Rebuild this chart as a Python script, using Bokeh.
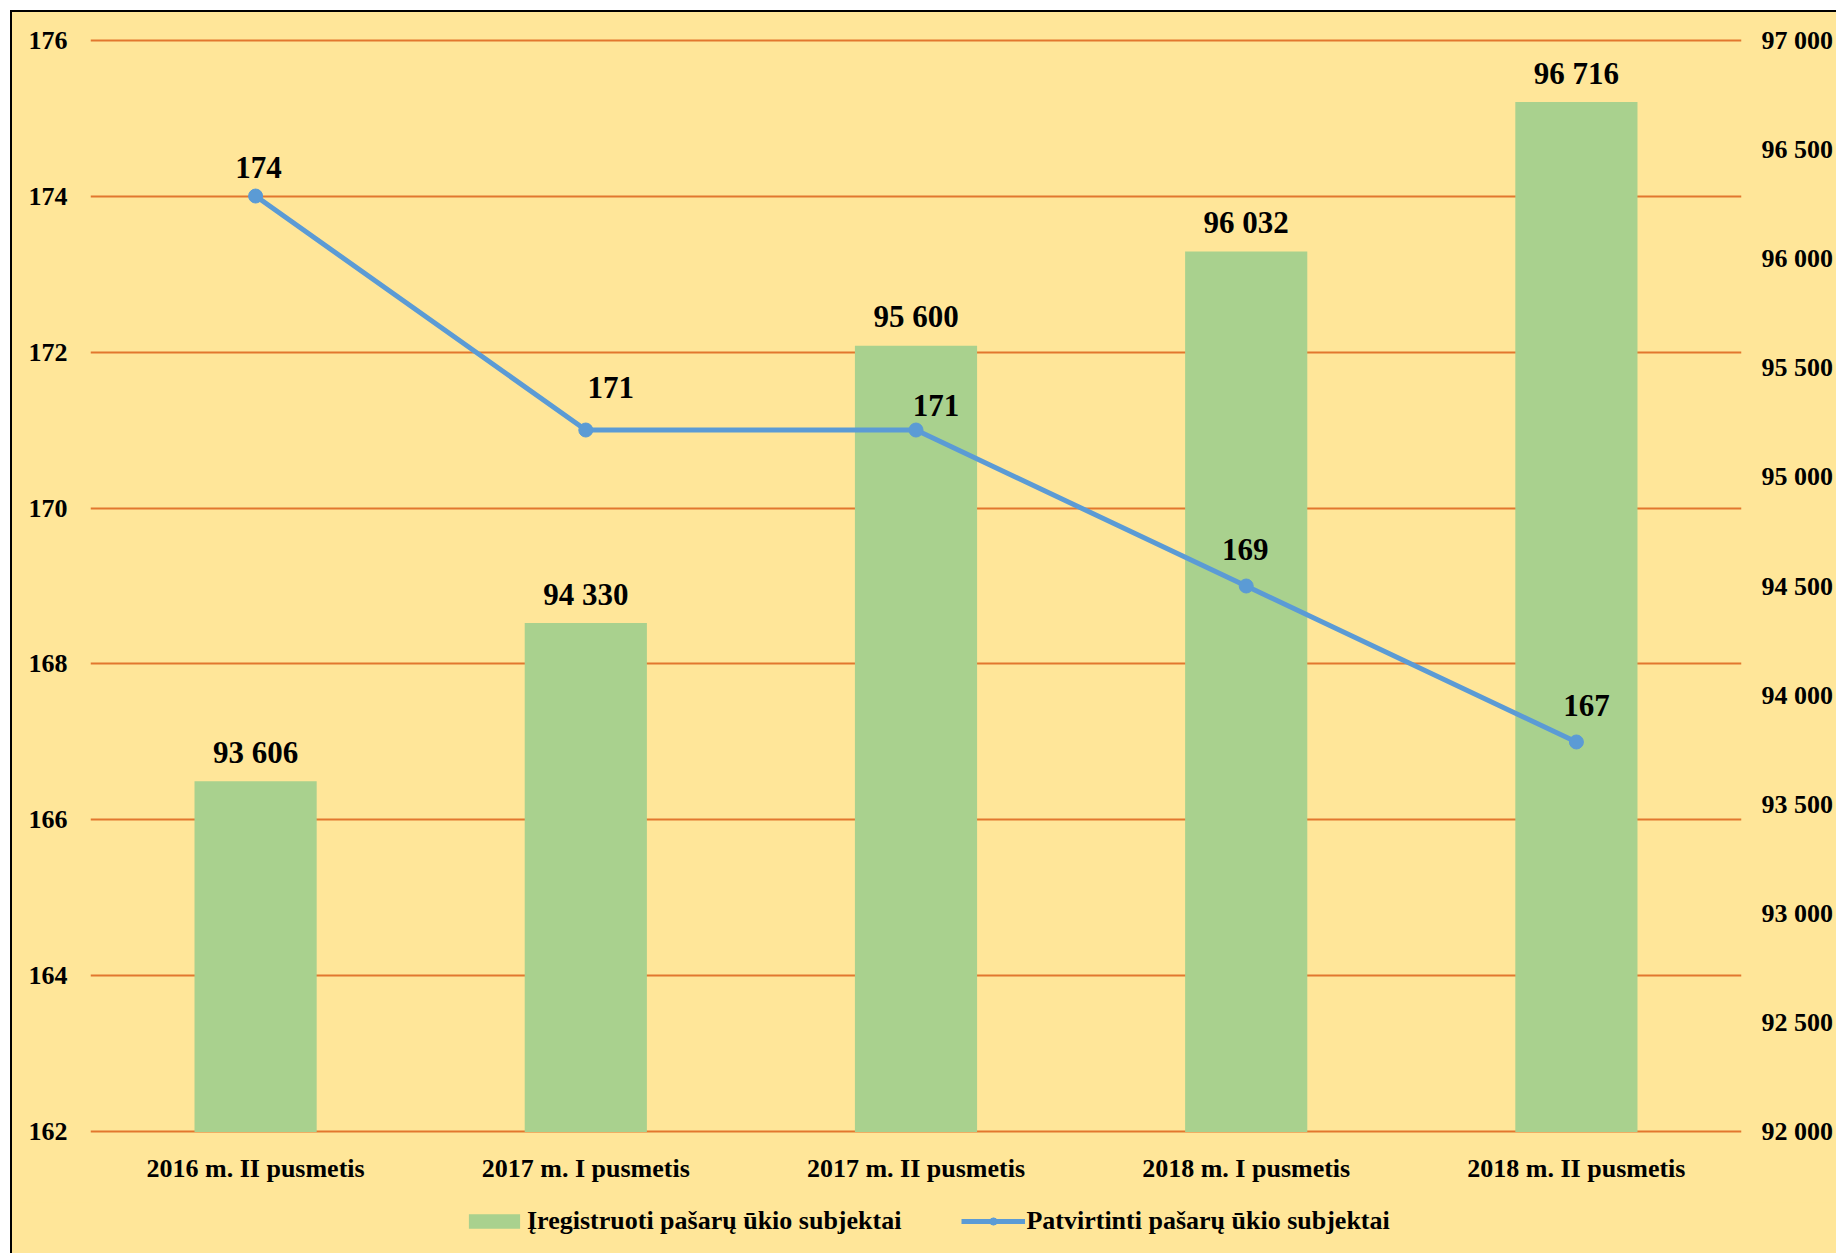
from bokeh.plotting import figure
from bokeh.layouts import column
from bokeh.models import (ColumnDataSource, FactorRange, Range1d, LinearAxis, FixedTicker,
                          LabelSet, Legend, LegendItem)
from bokeh.embed import file_html
from bokeh.resources import INLINE

categories = ["2016 m. II pusmetis", "2017 m. I pusmetis", "2017 m. II pusmetis",
              "2018 m. I pusmetis", "2018 m. II pusmetis"]
registered = [93606, 94330, 95600, 96032, 96716]
approved = [174, 171, 171, 169, 167]
left_ticks = [162, 164, 166, 168, 170, 172, 174, 176]
right_ticks = [92000, 92500, 93000, 93500, 94000, 94500, 95000, 95500, 96000, 96500, 97000]

bar_name = "Įregistruoti pašarų ūkio subjektai"
line_name = "Patvirtinti pašarų ūkio subjektai"

def fmt(v):
    return f"{v:,}".replace(",", " ")

FONT = "Liberation Serif"
BG = "#FFE699"
BAR = "#A9D18E"
LINE = "#5B9BD5"
GRID = "#E2772E"

src = ColumnDataSource(dict(
    cat=categories, reg=registered, app=approved,
    reg_lbl=[fmt(v) for v in registered],
    app_lbl=[str(v) for v in approved],
    dx=[3, 25, 20, -1, 10],
    dy=[29, 43, 25, 37, 36],
))

# small pad so that edge grid lines are drawn
lo, hi = left_ticks[0], left_ticks[-1]
rlo, rhi = right_ticks[0], right_ticks[-1]
pad = 0.02
scale = (rhi - rlo) / (hi - lo)

W = 1824
H_MAIN = 1190
H_LEG = 1241 - H_MAIN

p = figure(x_range=FactorRange(*categories, range_padding=0),
           y_range=Range1d(lo - pad, hi + pad),
           width=W, height=H_MAIN, output_backend="svg", toolbar_location=None,
           min_border_left=78, min_border_right=94, min_border_top=26, min_border_bottom=69)
p.background_fill_color = BG
p.border_fill_color = BG
p.outline_line_color = None
p.extra_y_ranges = {"right": Range1d(rlo - pad * scale, rhi + pad * scale)}

bars = p.vbar(x="cat", top="reg", bottom=rlo, width=0.37, source=src,
              y_range_name="right", fill_color=BAR, line_color=None)
ln = p.line(x="cat", y="app", source=src, line_color=LINE, line_width=5)
pts = p.scatter(x="cat", y="app", source=src, size=14, fill_color=LINE, line_color=LINE)

def style_axis(a, standoff):
    a.axis_line_color = None
    a.major_tick_line_color = None
    a.minor_tick_line_color = None
    a.major_tick_out = 0
    a.major_tick_in = 0
    a.minor_tick_out = 0
    a.minor_tick_in = 0
    a.major_label_text_font = FONT
    a.major_label_text_font_style = "bold"
    a.major_label_text_font_size = "26px"
    a.major_label_text_color = "black"
    a.major_label_standoff = standoff

ax = p.yaxis[0]
ax.ticker = FixedTicker(ticks=left_ticks)
style_axis(ax, 23)

rax = LinearAxis(y_range_name="right", ticker=FixedTicker(ticks=right_ticks),
                 major_label_overrides={t: fmt(t) for t in right_ticks})
style_axis(rax, 20)
p.add_layout(rax, "right")

style_axis(p.xaxis[0], 20)

p.xgrid.grid_line_color = None
p.ygrid.ticker = FixedTicker(ticks=left_ticks)
p.ygrid.grid_line_color = GRID
p.ygrid.grid_line_width = 2

# data labels
p.add_layout(LabelSet(x="cat", y="reg", text="reg_lbl", source=src, y_range_name="right",
                      y_offset=29, text_align="center", text_baseline="middle",
                      text_font=FONT, text_font_style="bold", text_font_size="31px",
                      text_color="black"))
p.add_layout(LabelSet(x="cat", y="app", text="app_lbl", source=src,
                      x_offset="dx", y_offset="dy", text_align="center", text_baseline="middle",
                      text_font=FONT, text_font_style="bold", text_font_size="31px",
                      text_color="black"))

# legend strip below the chart: same series drawn with the same styles, but
# entirely below this strip's visible y range, so only their legend glyphs show
lf = figure(width=W, height=H_LEG, output_backend="svg", toolbar_location=None,
            min_border=0, x_range=FactorRange(*categories, range_padding=0),
            y_range=Range1d(rhi * 10, rhi * 10 + 1))
lf.background_fill_color = None
lf.border_fill_color = BG
lf.outline_line_color = None
lf.axis.visible = False
lf.grid.visible = False
lbars = lf.vbar(x="cat", top="reg", bottom=rlo, width=0.37, source=src,
                fill_color=BAR, line_color=None)
lln = lf.line(x="cat", y="app", source=src, line_color=LINE, line_width=5)
lpts = lf.scatter(x="cat", y="app", source=src, size=14, fill_color=LINE, line_color=LINE)

legend = Legend(items=[LegendItem(label=bar_name, renderers=[lbars]),
                       LegendItem(label=line_name, renderers=[lln, lpts])],
                orientation="horizontal", location=(372, 17),
                glyph_width=64, glyph_height=18, label_standoff=1, spacing=60,
                padding=0, margin=0,
                background_fill_alpha=0, border_line_color=None,
                label_text_font=FONT, label_text_font_style="bold",
                label_text_font_size="26px", label_text_color="black")
lf.add_layout(legend, "center")

lay = column(p, lf, spacing=0)
lay.styles = {"margin-left": "10px", "margin-top": "10px", "background-color": BG,
              "border-left": "2px solid black", "border-top": "2px solid black"}

open("out.html", "w").write(file_html(lay, INLINE))
